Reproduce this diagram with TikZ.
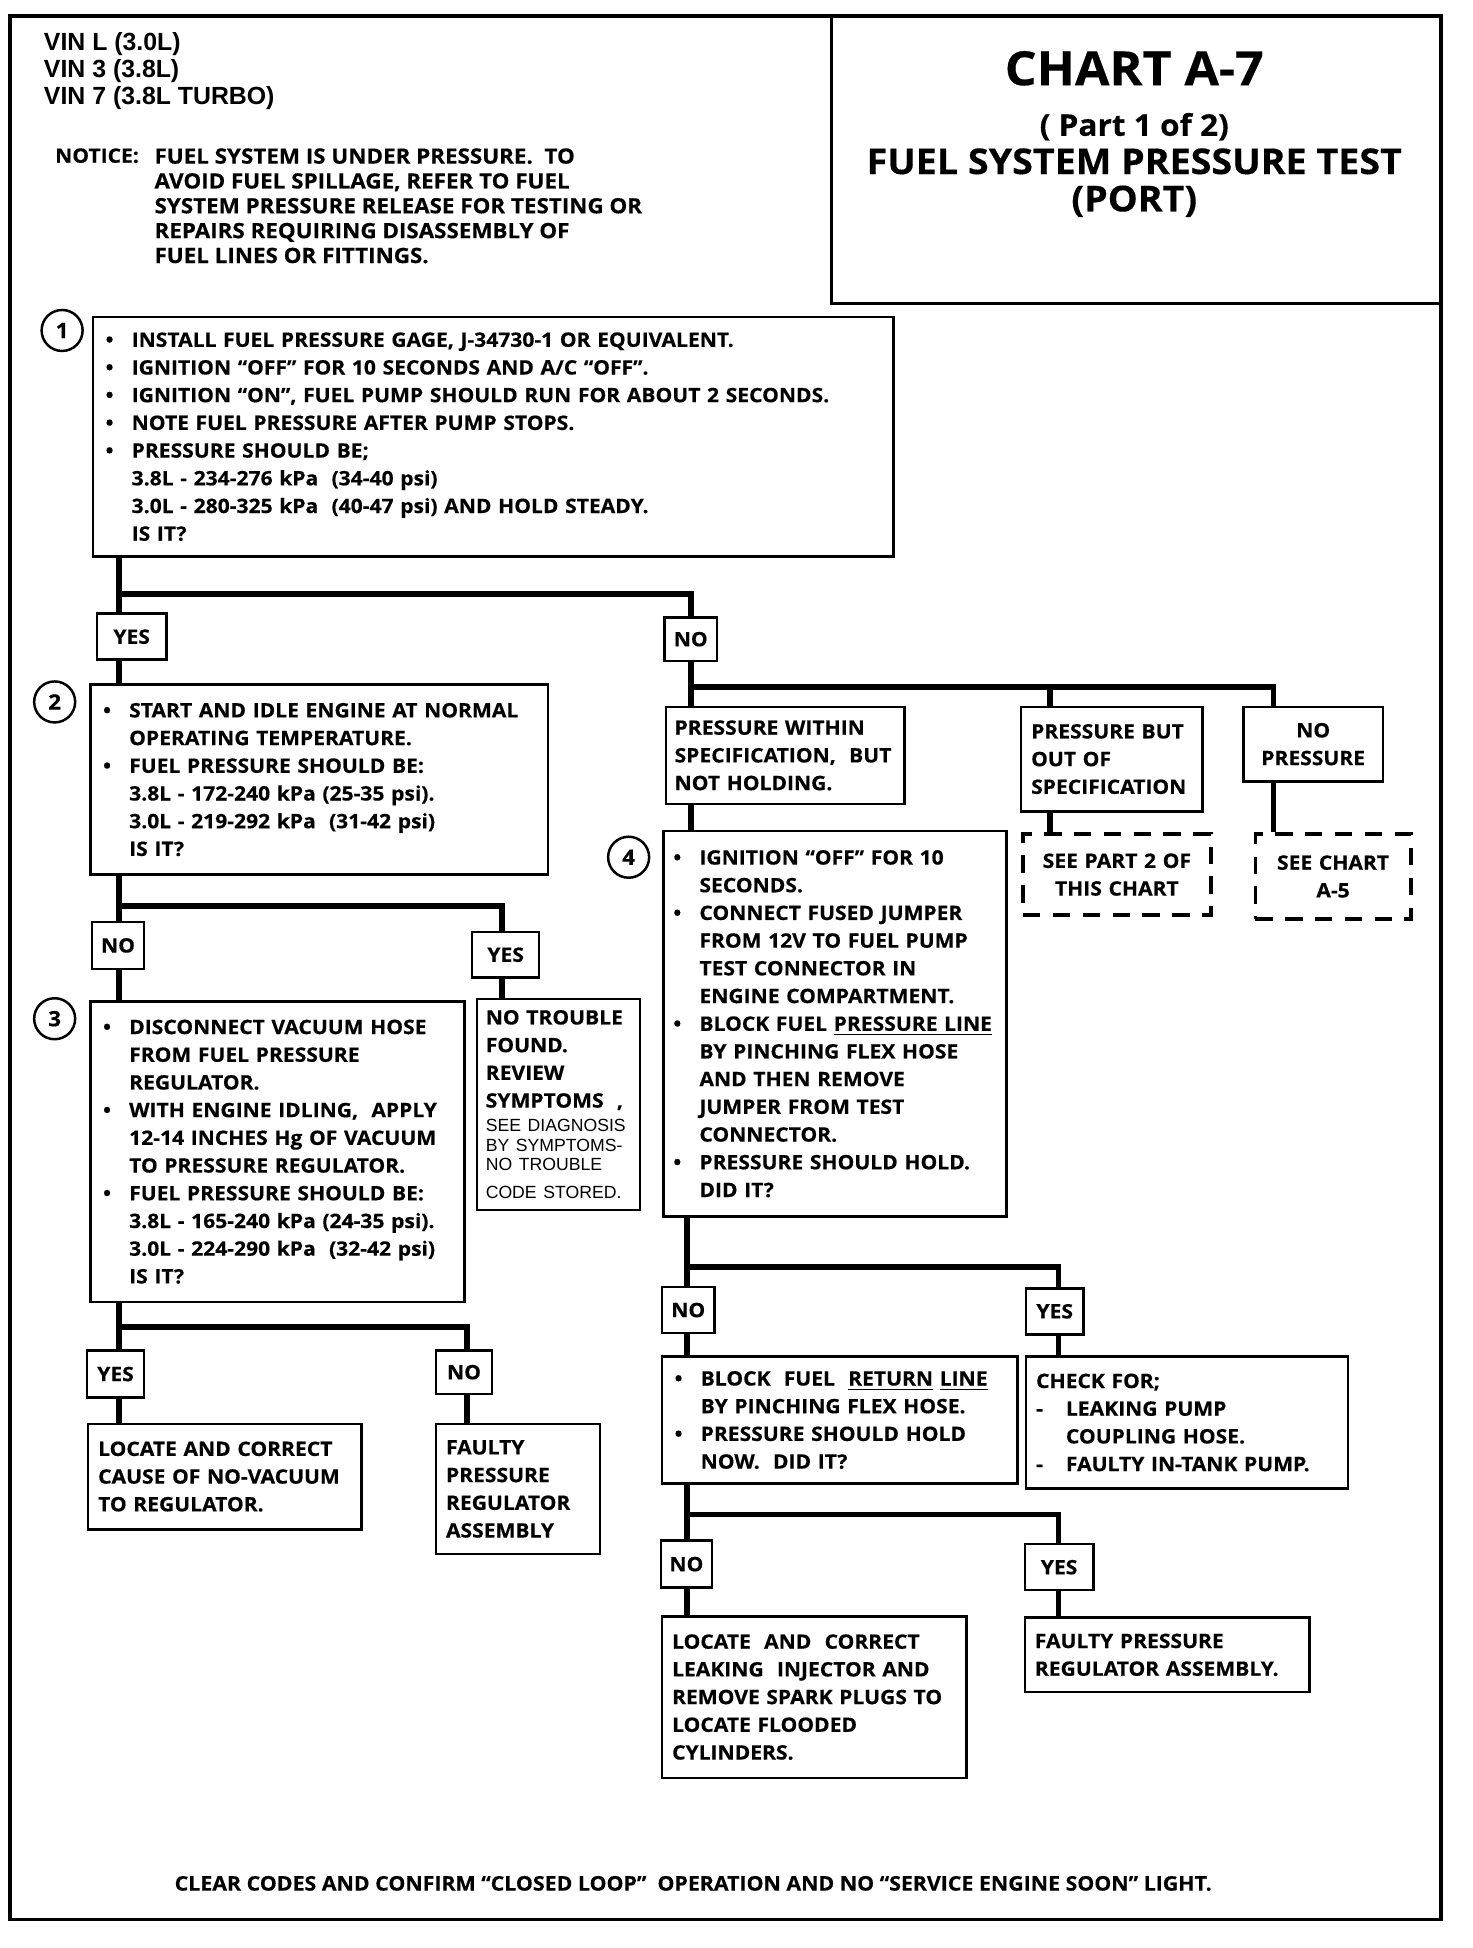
\documentclass[tikz,border=0pt]{standalone}
\usepackage{fontspec}
\setmainfont{Open Sans}[BoldFeatures={FakeStretch=1.06, FakeBold=0.4}]
\newfontfamily\arialfont{Liberation Sans}
\usetikzlibrary{positioning}

\newcommand{\bodyfont}{\bfseries\fontsize{8}{11.15}\selectfont}
\newcommand{\bl}{\makebox[10.5pt][l]{\textbullet}}
\newcommand{\ct}{\hspace*{10.5pt}}
\newcommand{\dsh}{\makebox[12pt][l]{-}}
\newcommand{\dct}{\hspace*{12pt}}

\begin{document}
\begin{tikzpicture}[
    x=0.5pt, y=-0.5pt,
    testbox/.style={draw, line width=1pt, anchor=north west, align=left, inner xsep=5pt, inner ysep=0pt, font=\bodyfont},
    endbox/.style={testbox, inner xsep=4pt},
    seebox/.style={endbox, align=center, dash pattern=on 7pt off 5pt, line width=1.5pt},
    ans/.style={draw, line width=1pt, minimum height=18.5pt, inner sep=0pt, font=\bodyfont},
    stepnum/.style={circle, draw, line width=1pt, minimum size=16.5pt, inner sep=0pt, font=\bfseries\fontsize{8.5}{10}\selectfont},
    flow/.style={line width=2.3pt}
]
\useasboundingbox (0,0) rectangle (1185,1568);

% Frame and title
\draw[line width=1.5pt] (8,13) rectangle (1160,1545);
\draw[line width=1.2pt] (669,13) -- (669,244) -- (1160,244);

\node[anchor=north west, align=left, inner sep=0pt, font=\arialfont\bfseries\fontsize{10}{10.75}\selectfont] (vin) at (35,26) {VIN L (3.0L)\\VIN 3 (3.8L)\\VIN 7 (3.8L TURBO)};
\node[anchor=north west, inner sep=0pt, font=\bfseries\fontsize{8}{10}\selectfont] (notice) at (44,119) {NOTICE:};
\node[anchor=north west, align=left, inner sep=0pt, font=\bfseries\fontsize{8.5}{10}\selectfont] (noticetxt) at (124,119) {FUEL SYSTEM IS UNDER PRESSURE.\ \ TO\\AVOID FUEL SPILLAGE, REFER TO\ FUEL\\SYSTEM\ PRESSURE RELEASE FOR TESTING OR\\REPAIRS\ REQUIRING DISASSEMBLY\ OF\\FUEL LINES OR FITTINGS.};

\node[font=\bfseries\fontsize{19}{22}\selectfont] (chart) at (913,55) {CHART A-7};
\node[font=\bfseries\fontsize{12}{14}\selectfont] (part) at (913,102) {( Part 1 of 2)};
\node[font=\bfseries\fontsize{14.3}{15}\selectfont, align=center] (title) at (913,147) {FUEL SYSTEM PRESSURE TEST\\(PORT)};

% Step 1
\node[stepnum] (n1) at (50,266) {1};
\node[testbox, text width=312pt, minimum height=96.5pt] (s1) at (74,254) {%
\bl INSTALL FUEL PRESSURE GAGE, J-34730-1 OR\ EQUIVALENT.\\
\bl IGNITION “OFF” FOR 10 SECONDS AND A/C “OFF”.\\
\bl IGNITION “ON”, FUEL PUMP SHOULD RUN FOR ABOUT 2 SECONDS.\\
\bl NOTE FUEL PRESSURE AFTER PUMP STOPS.\\
\bl PRESSURE SHOULD BE;\\
\ct 3.8L - 234-276 kPa\ \ (34-40 psi)\\
\ct 3.0L - 280-325 kPa\ \ (40-47 psi) AND HOLD STEADY.\\
\ct IS IT?};

\node[ans, minimum width=28pt] (yes1) at (106,512.5) {YES};
\node[ans, minimum width=21pt, minimum height=17.5pt] (no1) at (556,514.5) {NO};

% Step 2
\node[stepnum] (n2) at (44,565) {2};
\node[testbox, text width=174pt, minimum height=76.5pt] (s2) at (72,550) {%
\bl START AND IDLE ENGINE AT NORMAL\\
\ct OPERATING TEMPERATURE.\\
\bl FUEL PRESSURE SHOULD BE:\\
\ct 3.8L - 172-240 kPa (25-35 psi).\\
\ct 3.0L - 219-292 kPa\ \ (31-42 psi)\\
\ct IS IT?};

\node[ans, minimum width=21pt, minimum height=19pt] (no2) at (95,761) {NO};
\node[ans, minimum width=27pt] (yes2) at (407,768.5) {YES};

% Step 3
\node[stepnum] (n3) at (44,820) {3};
\node[testbox, text width=140.5pt, minimum height=121pt] (s3) at (72,805) {%
\bl DISCONNECT VACUUM HOSE\\
\ct FROM FUEL PRESSURE\\
\ct REGULATOR.\\
\bl WITH ENGINE IDLING,\ \ APPLY\\
\ct 12-14 INCHES Hg OF VACUUM\\
\ct TO PRESSURE REGULATOR.\\
\bl FUEL PRESSURE SHOULD BE:\\
\ct 3.8L - 165-240 kPa (24-35 psi).\\
\ct 3.0L - 224-290 kPa\ \ (32-42 psi)\\
\ct IS IT?};

\node[endbox, inner xsep=3.5pt, text width=58.5pt, minimum height=85pt] (ntf) at (383,803) {%
NO TROUBLE\\FOUND.\\REVIEW\\SYMPTOMS\ \ ,\par\vspace{1.5pt}
\arialfont\mdseries\fontsize{7.1}{8}\selectfont SEE DIAGNOSIS\\BY SYMPTOMS-\\NO TROUBLE\\CODE STORED.};

\node[ans, minimum width=23pt, minimum height=19pt] (yes3) at (93,1106) {YES};
\node[ans, minimum width=22.5pt, minimum height=17.5pt] (no3) at (373.5,1104.5) {NO};

\node[endbox, text width=102pt, minimum height=42.5pt] (loc1) at (70,1145) {%
LOCATE AND CORRECT\\CAUSE OF NO-VACUUM\\TO REGULATOR.};
\node[endbox, text width=58pt, minimum height=52.5pt] (fr1) at (350,1145) {%
FAULTY\\PRESSURE\\REGULATOR\\ASSEMBLY};

% Right branch
\node[endbox, inner xsep=3.5pt, text width=89pt, minimum height=39pt] (pw) at (535,568) {%
PRESSURE WITHIN\\SPECIFICATION,\ \ BUT\\NOT HOLDING.};
\node[endbox, text width=65pt, minimum height=42pt] (pb) at (821,568) {%
PRESSURE BUT\\OUT OF\\SPECIFICATION};
\node[endbox, align=center, text width=48pt, minimum height=30pt] (np) at (1000,568) {%
NO\\PRESSURE};
\node[seebox, text width=67.5pt, minimum height=32.5pt] (see2) at (822,670) {%
SEE PART 2 OF\\THIS CHART};
\node[seebox, text width=54.5pt, minimum height=34pt] (seea5) at (1009,670) {%
SEE CHART\\A-5};

% Step 4
\node[stepnum] (n4) at (506,690) {4};
\node[testbox, inner xsep=4pt, text width=130pt, minimum height=155pt] (s4) at (533,668) {%
\bl IGNITION “OFF” FOR 10\\
\ct SECONDS.\\
\bl CONNECT FUSED JUMPER\\
\ct FROM 12V TO FUEL PUMP\\
\ct TEST CONNECTOR IN\\
\ct ENGINE COMPARTMENT.\\
\bl BLOCK FUEL \underline{PRESSURE LINE}\\
\ct BY PINCHING FLEX HOSE\\
\ct AND THEN REMOVE\\
\ct JUMPER FROM TEST\\
\ct CONNECTOR.\\
\bl PRESSURE SHOULD HOLD.\\
\ct DID IT?};

\node[ans, minimum width=21pt] (no4) at (554,1054.5) {NO};
\node[ans, minimum width=23pt] (yes4) at (849,1055.5) {YES};

\node[testbox, text width=133pt, minimum height=51pt] (br) at (532,1091) {%
\bl BLOCK\ \ FUEL\ \ \underline{RETURN} \underline{LINE}\\
\ct BY PINCHING FLEX HOSE.\\
\bl PRESSURE SHOULD HOLD\\
\ct NOW.\ \ DID IT?};
\node[endbox, text width=121.5pt, minimum height=53pt] (chk) at (825,1091) {%
CHECK FOR;\\
\dsh LEAKING PUMP\\
\dct COUPLING HOSE.\\
\dsh FAULTY IN-TANK PUMP.};

\node[ans, minimum width=20.5pt, minimum height=19pt] (no5) at (552.5,1259) {NO};
\node[ans, minimum width=27.5pt] (yes5) at (852.5,1261.5) {YES};

\node[endbox, text width=114.5pt, minimum height=65pt] (loc2) at (532,1300) {%
LOCATE\ \ AND\ \ CORRECT\\
LEAKING\ \ INJECTOR AND\\
REMOVE SPARK PLUGS TO\\
LOCATE FLOODED\\
CYLINDERS.};
\node[endbox, text width=106.5pt, minimum height=30pt] (fpr) at (824,1301) {%
FAULTY PRESSURE\\REGULATOR ASSEMBLY.};

\node[font=\bfseries\fontsize{8.1}{9}\selectfont] (clear) at (558,1516) {CLEAR CODES AND CONFIRM “CLOSED LOOP”\ \ OPERATION AND NO “SERVICE ENGINE SOON” LIGHT.};

% Connectors
\coordinate (j1) at (96,478);
\draw[flow] (s1.south -| j1) -- (yes1.north -| j1);
\draw[flow] (j1) -| (no1.north);
\draw[flow] (yes1.south -| j1) -- (s2.north -| j1);

\coordinate (j2) at (556,553);
\coordinate (d2) at (845,553);
\coordinate (j2r) at (1025,553);
\draw[flow] (no1.south) -- (pw.north -| no1);
\draw[flow] (j2) -- (j2r) -- (np.north -| j2r);
\draw[flow] (d2) -- (pb.north -| d2);
\draw[flow] (pb.south -| d2) -- (see2.north -| d2);
\draw[flow] (np.south -| j2r) -- (seea5.north -| j2r);
\draw[flow] (pw.south -| no1) -- (s4.north -| no1);

\coordinate (j3) at (96,729);
\coordinate (j3r) at (404,729);
\draw[flow] (s2.south -| j3) -- (no2.north -| j3);
\draw[flow] (j3) -- (j3r) -- (yes2.north -| j3r);
\draw[flow] (no2.south -| j3) -- (s3.north -| j3);
\draw[flow] (yes2.south -| j3r) -- (ntf.north -| j3r);

\coordinate (j4) at (96,1068);
\coordinate (j4r) at (376,1068);
\draw[flow] (s3.south -| j4) -- (yes3.north -| j4);
\draw[flow] (j4) -- (j4r) -- (no3.north -| j4r);
\draw[flow] (yes3.south -| j4) -- (loc1.north -| j4);
\draw[flow] (no3.south -| j4r) -- (fr1.north -| j4r);

\coordinate (j5) at (553,1020);
\coordinate (j5r) at (852,1020);
\draw[flow] (s4.south -| j5) -- (no4.north -| j5);
\draw[flow] (j5) -- (j5r) -- (yes4.north -| j5r);
\draw[flow] (no4.south -| j5) -- (br.north -| j5);
\draw[flow] (yes4.south -| j5r) -- (chk.north -| j5r);

\coordinate (j6) at (553,1219);
\coordinate (j6r) at (852,1219);
\draw[flow] (br.south -| j6) -- (no5.north -| j6);
\draw[flow] (j6) -- (j6r) -- (yes5.north -| j6r);
\draw[flow] (no5.south -| j6) -- (loc2.north -| j6);
\draw[flow] (yes5.south -| j6r) -- (fpr.north -| j6r);

\end{tikzpicture}
\end{document}
